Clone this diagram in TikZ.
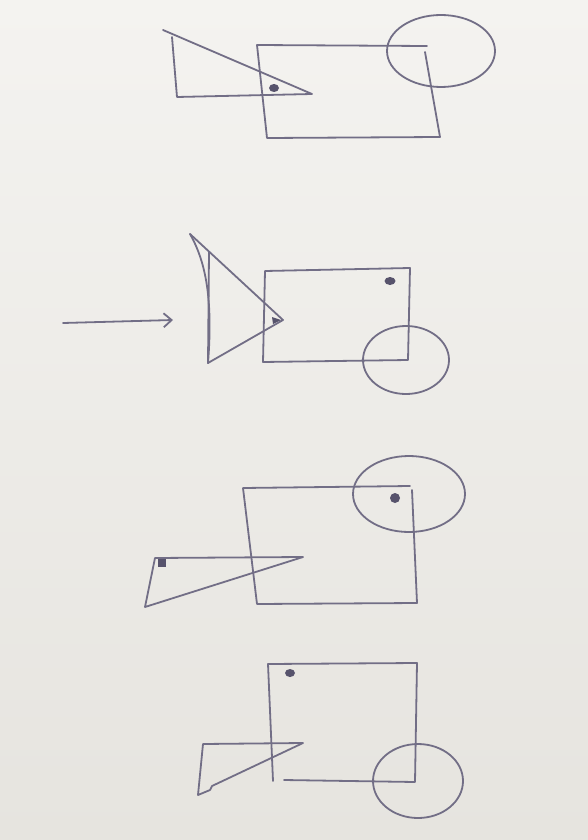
\documentclass[tikz,border=0pt]{standalone}
\usepackage{tikz}
\usetikzlibrary{arrows.meta}
\definecolor{inkcol}{HTML}{726E86}
\definecolor{spotcol}{HTML}{57536C}
\definecolor{papertop}{HTML}{F4F3F0}
\definecolor{paperbot}{HTML}{E6E4DF}
\begin{document}
\begin{tikzpicture}[x=1pt, y=-1pt,
      pen/.style={draw=inkcol, line width=1.8pt, line join=round, line cap=round},
      spot/.style={fill=spotcol}]
    % paper
    \shade[top color=papertop, bottom color=paperbot] (0,0) rectangle (588,840);
    \useasboundingbox (0,0) rectangle (588,840);

    % sketch 1
    \draw[pen] (425,52) -- (440,137) -- (267,138) -- (257,45) -- (427,46);
    \draw[pen] (163,30) -- (312,94) -- (177,97) -- (172,37);
    \fill[spot] (274,88) ellipse (5 and 4);
    \draw[pen] (441,51) ellipse (54 and 36);

    % sketch 2
    \coordinate (from) at (63,323);
    \coordinate (to) at (173,320);
    \draw[pen, -{Straight Barb[length=8pt, width=14pt]}] (from) -- (to);
    \draw[pen] (190,234) -- (283,320) -- (208,363) -- (209,252);
    \draw[pen] (190,234) .. controls (206,262) and (213,300) .. (208,363);
    \fill[spot] (272,317) -- (281,320) -- (273,324) -- cycle;
    \draw[pen] (265,271) -- (410,268) -- (408,360) -- (263,362) -- cycle;
    \fill[spot] (390,281) ellipse (5.5 and 4);
    \draw[pen] (406,360) ellipse (43 and 34);

    % sketch 3
    \draw[pen] (409,494) ellipse (56 and 38);
    \draw[pen] (243,488) -- (410,486) (412,490) -- (417,603) -- (257,604) -- (243,488);
    \fill[spot] (395,498) circle (5);
    \draw[pen] (155,558) -- (303,557) -- (145,607) -- cycle;
    \fill[spot] (158,559) rectangle (166,567);

    % sketch 4
    \draw[pen] (268,664) -- (417,663) -- (415,782) -- (284,780);
    \draw[pen] (268,664) -- (273,781);
    \fill[spot] (290,673) ellipse (5 and 4);
    \draw[pen] (418,781) ellipse (45 and 37);
    \draw[pen] (203,744) -- (303,743) -- (212,786) -- (210,790) -- (198,795) -- cycle;
\end{tikzpicture}
\end{document}
